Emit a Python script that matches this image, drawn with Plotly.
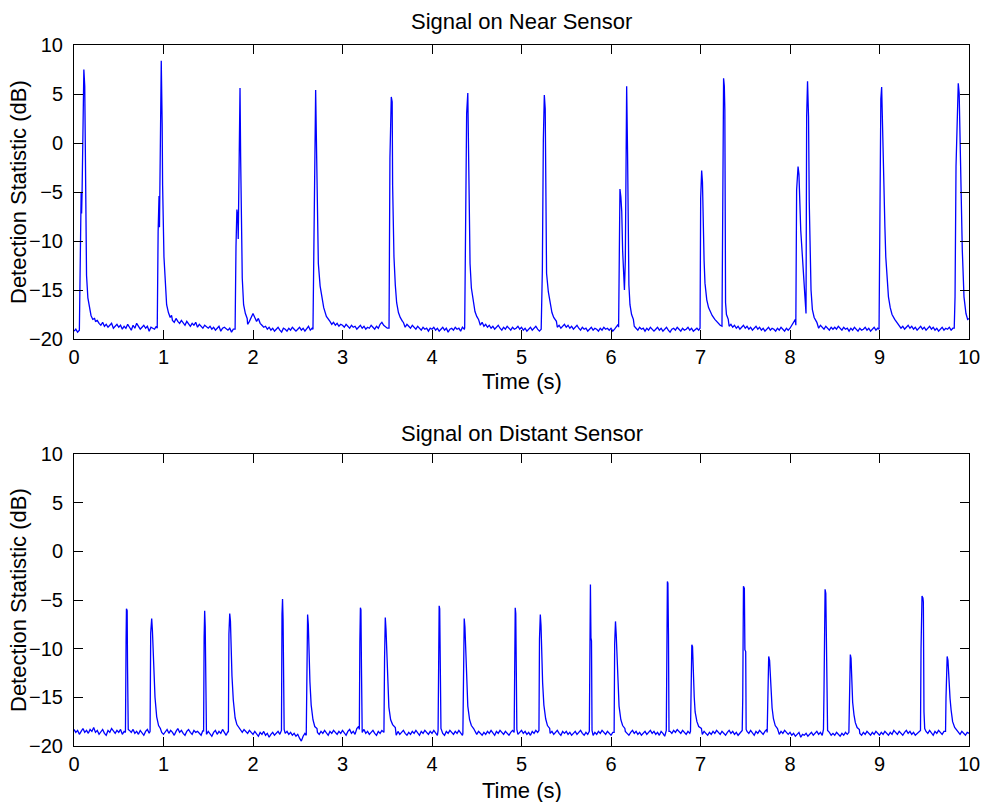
import plotly.graph_objects as go

# ---------------- data ----------------
SAMPLE_STEP = 0.02  # s, spacing of the noise-floor samples

x_ticks = [0, 1, 2, 3, 4, 5, 6, 7, 8, 9, 10]
y_ticks = [10, 5, 0, -5, -10, -15, -20]

titles = ["Signal on Near Sensor", "Signal on Distant Sensor"]
x_title = "Time (s)"
y_title = "Detection Statistic (dB)"

# noise floor, near sensor (one value every 0.02 s, 0 .. 10 s)
near_floor = [
    -19.2, -19.0, -19.3, -19.1, -19.0, -18.9, -19.1, -19.0, -19.2, -19.0, -18.9, -18.7, -18.2, -18.1, -18.4, -18.6, -18.3, -18.7, -18.5, -18.8, -18.6, -18.4, -18.9, -18.7, -18.5,
    -18.8, -18.6, -19.0, -18.7, -18.9, -18.5, -18.8, -19.1, -18.6, -18.9, -18.4, -18.7, -19.0, -18.8, -18.6, -18.9, -18.7, -19.2, -18.8, -18.9, -19.0, -18.7, -19.1, -19.0, -18.8,
    -18.5, -18.2, -17.9, -18.0, -17.8, -18.1, -18.3, -17.9, -18.2, -18.4, -18.1, -18.3, -18.6, -18.2, -18.5, -18.7, -18.4, -18.6, -18.3, -18.8, -18.5, -18.7, -18.9, -18.6, -18.8,
    -18.9, -18.7, -19.0, -18.8, -19.1, -18.9, -18.7, -19.2, -18.9, -18.8, -19.0, -19.1, -18.9, -19.3, -19.0, -18.8, -19.1, -18.9, -18.7, -18.4, -18.6, -18.9, -18.5, -18.2, -17.8,
    -17.4, -17.8, -18.2, -17.9, -18.4, -18.6, -18.8, -18.7, -19.0, -18.8, -19.1, -18.9, -19.2, -19.0, -18.8, -19.1, -19.3, -18.9, -19.0, -19.2, -18.9, -19.1, -18.8, -19.0, -19.2,
    -19.0, -18.8, -19.1, -18.9, -19.2, -19.0, -18.7, -19.1, -18.9, -19.0, -18.8, -19.2, -19.0, -18.9, -19.1, -18.3, -18.1, -18.4, -18.2, -18.5, -18.3, -18.6, -18.4, -18.7, -18.5,
    -18.6, -18.8, -18.5, -18.7, -18.9, -18.6, -18.8, -18.7, -19.0, -18.8, -18.6, -18.9, -18.7, -19.0, -18.8, -18.9, -18.6, -18.8, -19.0, -18.7, -18.9, -18.5, -18.3, -18.6, -18.8,
    -18.9, -19.0, -18.8, -19.1, -18.7, -18.1, -18.5, -18.2, -18.6, -18.3, -18.8, -18.5, -18.7, -18.9, -18.6, -18.8, -19.0, -18.7, -18.9, -19.1, -18.8, -19.0, -18.9, -19.2, -18.9,
    -19.0, -18.8, -19.1, -18.9, -19.2, -19.0, -18.8, -19.1, -18.9, -19.3, -19.0, -18.9, -19.1, -18.8, -19.0, -18.9, -19.2, -18.8, -19.0, -18.7, -18.9, -19.0, -18.3, -18.6, -18.1,
    -18.4, -18.2, -18.6, -18.3, -18.7, -18.5, -18.8, -18.6, -18.9, -18.7, -19.0, -18.8, -18.6, -18.9, -19.1, -18.8, -19.0, -18.7, -18.9, -19.1, -18.8, -19.0, -18.9, -18.7, -19.0,
    -18.8, -19.1, -18.9, -19.2, -19.0, -18.8, -19.1, -18.9, -18.7, -19.0, -19.2, -18.9, -19.1, -18.8, -19.0, -18.9, -18.6, -18.4, -18.7, -18.5, -18.8, -18.6, -18.9, -18.7, -18.5,
    -18.8, -18.6, -18.9, -18.7, -19.0, -18.8, -18.6, -18.9, -19.1, -18.8, -19.0, -18.9, -19.2, -19.0, -18.8, -19.1, -18.9, -19.0, -19.2, -18.9, -19.1, -18.8, -19.0, -18.9, -19.1,
    -18.9, -19.2, -19.0, -18.8, -18.5, -18.7, -18.3, -18.0, -18.4, -18.7, -18.5, -18.8, -19.0, -18.7, -18.9, -19.1, -18.8, -19.0, -18.9, -19.2, -18.9, -19.1, -18.8, -19.0, -19.2,
    -19.0, -18.8, -19.1, -18.9, -19.2, -19.0, -18.8, -19.1, -19.3, -19.0, -18.9, -19.1, -18.8, -19.0, -19.2, -18.9, -19.1, -19.0, -18.8, -19.1, -18.9, -19.2, -19.0, -18.9, -19.1,
    -19.0, -18.8, -18.5, -17.6, -17.9, -18.2, -17.8, -18.3, -18.1, -18.5, -18.3, -18.6, -18.8, -18.2, -18.6, -18.4, -18.7, -18.5, -18.8, -18.6, -18.9, -18.7, -19.0, -18.8, -18.6,
    -18.9, -18.7, -19.0, -18.8, -19.1, -18.9, -18.7, -19.0, -18.8, -19.1, -18.9, -19.2, -19.0, -18.8, -19.1, -18.9, -19.0, -19.2, -18.9, -19.1, -18.8, -19.0, -19.2, -18.9, -19.1,
    -18.9, -18.6, -18.3, -18.0, -18.4, -17.9, -18.3, -18.6, -18.2, -18.5, -18.7, -18.4, -18.6, -18.8, -18.5, -18.7, -18.9, -18.6, -18.8, -19.0, -18.7, -18.9, -19.1, -18.8, -19.0,
    -18.8, -19.0, -18.7, -18.9, -19.1, -18.8, -19.0, -18.9, -19.2, -18.9, -19.1, -18.8, -19.0, -19.2, -18.9, -19.1, -19.0, -18.8, -19.1, -18.9, -19.2, -19.0, -18.8, -19.1, -18.9,
    -19.0, -18.8, -19.1, -18.9, -18.5, -18.2, -18.6, -18.3, -18.7, -18.5, -18.8, -18.6, -18.9, -18.7, -19.0, -18.8, -18.6, -18.9, -18.7, -19.0, -18.8, -19.1, -18.9, -18.7, -19.0,
    -18.8, -19.1, -18.9, -18.7, -19.0, -18.8, -19.1, -18.9, -19.2, -19.0, -18.8, -19.1, -18.9, -19.0, -18.8, -19.1, -18.9, -19.2, -19.0, -18.8, -19.1, -18.9, -19.0, -18.8, -18.6,
    -18.0,
]

# detections on the near sensor: (time s, dB) points
near_events = [
    [(0.06, -19.1), (0.07, -12.0), (0.08, -5.0), (0.085, -7.2), (0.09, -5.2), (0.10, 4.5), (0.11, 7.5), (0.12, 5.8),
     (0.13, -6.0), (0.14, -13.5), (0.155, -15.8), (0.17, -16.8), (0.19, -17.6), (0.21, -18.0), (0.23, -17.9)],
    [(0.93, -18.9), (0.94, -9.0), (0.95, -5.4), (0.955, -8.6), (0.965, -1.0), (0.975, 8.4), (0.985, 2.0), (0.99, -4.3),
     (1.005, -11.6), (1.02, -14.6), (1.035, -16.5), (1.055, -17.3), (1.075, -17.8), (1.09, -17.6)],
    [(1.80, -19.0), (1.81, -10.5), (1.82, -6.8), (1.83, -7.6), (1.835, -9.8), (1.845, -2.0), (1.855, 5.6), (1.862, -1.5),
     (1.87, -10.0), (1.88, -13.8), (1.895, -16.5), (1.915, -17.4), (1.935, -17.9)],
    [(2.67, -19.0), (2.685, -5.0), (2.70, 5.4), (2.708, 0.5), (2.72, -8.0), (2.73, -12.3), (2.75, -14.6), (2.767, -15.6),
     (2.79, -16.8), (2.82, -17.7), (2.85, -18.0)],
    [(3.52, -18.9), (3.53, -1.5), (3.545, 4.7), (3.555, 4.2), (3.56, -4.3), (3.575, -11.6), (3.59, -14.5), (3.605, -16.3),
     (3.625, -17.3), (3.645, -17.8), (3.67, -18.2)],
    [(4.365, -18.9), (4.376, -8.0), (4.387, 3.0), (4.40, 5.1), (4.41, -4.8), (4.425, -12.3), (4.44, -14.8), (4.46, -16.3),
     (4.48, -17.2), (4.50, -17.7), (4.52, -18.0)],
    [(5.22, -19.0), (5.233, -13.0), (5.244, 0.3), (5.255, 4.9), (5.265, 3.5), (5.272, -6.1), (5.28, -13.3), (5.30, -15.2),
     (5.32, -16.4), (5.34, -17.3), (5.36, -17.8), (5.39, -18.2)],
    [(6.085, -18.8), (6.093, -12.3), (6.10, -4.7), (6.11, -5.5), (6.12, -7.0), (6.13, -11.0), (6.14, -13.6), (6.15, -15.0),
     (6.16, -12.0), (6.168, 4.7), (6.175, 5.8), (6.185, -1.0), (6.193, -10.6), (6.20, -14.5), (6.212, -16.5),
     (6.23, -17.5), (6.25, -18.0)],
    [(6.995, -18.9), (7.002, -5.6), (7.013, -2.8), (7.022, -4.0), (7.031, -8.9), (7.04, -12.0), (7.05, -14.3),
     (7.07, -16.0), (7.09, -16.8), (7.11, -17.3), (7.13, -17.6), (7.16, -18.0), (7.19, -18.3), (7.215, -18.6)],
    [(7.24, -18.7), (7.246, -8.0), (7.25, 5.4), (7.258, 6.6), (7.266, 5.8), (7.272, 3.4), (7.28, -16.3), (7.29, -17.5),
     (7.31, -18.0)],
    [(8.065, -18.6), (8.074, -4.8), (8.09, -2.4), (8.10, -3.2), (8.12, -8.9), (8.135, -11.5), (8.15, -13.3), (8.167, -15.7),
     (8.179, -17.4), (8.186, 2.7), (8.196, 6.3), (8.207, 2.7), (8.215, -6.0), (8.224, -12.3), (8.235, -15.0),
     (8.25, -17.0), (8.27, -17.8), (8.30, -18.3)],
    [(8.995, -19.0), (9.006, -4.8), (9.015, 4.5), (9.024, 5.7), (9.035, 0.6), (9.05, -4.5), (9.06, -8.5), (9.07, -11.6),
     (9.085, -14.0), (9.10, -15.7), (9.12, -16.8), (9.14, -17.5), (9.17, -18.0), (9.20, -18.4)],
    [(9.835, -18.9), (9.844, -15.7), (9.855, -2.4), (9.87, 2.7), (9.88, 6.1), (9.89, 5.1), (9.907, -4.8), (9.925, -10.9),
     (9.944, -15.7), (9.966, -17.4), (9.985, -18.0), (10.0, -17.9)],
]

# noise floor, distant sensor (one value every 0.02 s, 0 .. 10 s)
far_floor = [
    -18.3, -18.6, -18.4, -18.8, -18.5, -18.2, -18.6, -18.4, -18.7, -18.3, -18.5, -18.1, -18.6, -18.4, -18.8, -18.5, -18.3, -18.7, -18.9, -18.4, -18.6, -18.2, -18.5, -18.7, -18.4,
    -18.6, -18.3, -18.8, -18.5, -18.2, -18.9, -18.4, -18.6, -18.3, -18.7, -18.5, -18.8, -18.4, -18.6, -18.9, -18.5, -18.3, -18.7, -18.4, -18.6, -18.3, -18.5, -18.7, -18.4, -18.6,
    -18.8, -18.5, -18.3, -18.7, -18.4, -18.6, -18.9, -18.5, -18.2, -18.6, -18.4, -18.7, -18.9, -18.5, -18.3, -18.6, -18.8, -18.4, -18.6, -18.5, -18.7, -18.9, -18.4, -18.6, -18.8,
    -18.5, -18.7, -19.0, -18.6, -18.4, -18.8, -18.5, -18.7, -18.3, -18.6, -18.9, -18.5, -18.7, -18.4, -18.6, -18.8, -18.5, -18.7, -18.4, -18.6, -18.3, -18.5, -18.7, -18.4, -18.6,
    -18.8, -18.5, -18.7, -19.0, -18.6, -18.8, -18.5, -18.9, -18.7, -19.1, -18.8, -18.6, -18.9, -18.7, -18.5, -18.8, -18.6, -18.9, -18.7, -18.5, -18.8, -18.6, -18.9, -18.7, -19.0,
    -18.8, -19.2, -19.5, -19.0, -18.7, -18.9, -18.6, -18.8, -18.5, -18.7, -18.4, -18.6, -18.8, -18.5, -18.7, -18.4, -18.6, -18.9, -18.5, -18.7, -18.4, -18.6, -18.8, -18.5, -18.7,
    -18.4, -18.6, -18.9, -18.5, -18.3, -18.7, -18.5, -18.8, -18.2, -18.0, -18.4, -18.6, -18.3, -18.7, -18.5, -18.8, -18.6, -18.4, -18.7, -18.9, -18.5, -18.7, -18.4, -18.6, -18.8,
    -18.5, -18.3, -18.6, -18.4, -18.7, -18.9, -18.5, -18.8, -18.6, -18.4, -18.7, -18.9, -18.6, -18.8, -18.5, -18.7, -18.4, -18.6, -18.9, -18.5, -18.7, -18.4, -18.6, -18.8, -18.5,
    -18.7, -18.4, -18.6, -18.9, -18.5, -18.2, -18.7, -18.9, -18.5, -18.7, -18.4, -18.6, -18.8, -18.5, -18.7, -18.4, -18.6, -18.9, -18.5, -18.7, -18.8, -18.6, -18.9, -18.7, -18.5,
    -18.8, -18.5, -18.7, -18.9, -18.6, -18.8, -18.5, -18.7, -18.4, -18.6, -18.9, -18.5, -18.7, -18.4, -18.6, -18.8, -18.5, -18.7, -18.9, -18.6, -18.4, -18.7, -18.5, -18.8, -18.6,
    -18.4, -18.7, -18.5, -18.8, -18.6, -18.9, -18.5, -18.7, -18.4, -18.6, -18.8, -18.5, -18.7, -18.9, -18.6, -18.4, -18.7, -18.5, -18.8, -18.6, -18.4, -18.7, -18.9, -18.5, -18.7,
    -18.5, -18.8, -18.6, -18.9, -18.7, -18.5, -18.8, -18.6, -18.4, -18.7, -18.9, -18.6, -18.8, -18.5, -18.7, -18.9, -18.6, -18.8, -18.5, -18.7, -18.4, -18.6, -18.8, -18.5, -18.7,
    -18.9, -18.6, -18.8, -18.5, -18.7, -18.4, -18.6, -18.8, -18.5, -18.7, -18.9, -18.6, -18.4, -18.7, -18.5, -18.8, -18.6, -18.9, -18.7, -18.5, -18.8, -18.6, -18.4, -18.7, -18.5,
    -18.8, -18.6, -18.9, -18.5, -18.7, -19.0, -18.6, -18.8, -18.5, -18.7, -18.4, -18.6, -18.3, -18.5, -18.7, -18.4, -18.6, -18.8, -18.5, -18.7, -18.9, -18.6, -18.8, -18.5, -18.7,
    -18.6, -18.8, -18.5, -18.7, -18.9, -18.6, -18.8, -18.5, -18.7, -18.4, -18.6, -18.8, -18.5, -18.7, -18.9, -18.6, -18.4, -18.7, -18.5, -18.8, -18.6, -18.9, -18.7, -18.5, -18.6,
    -18.8, -18.5, -18.7, -18.4, -18.6, -18.9, -18.5, -18.7, -18.4, -18.6, -18.8, -18.5, -18.3, -18.6, -18.8, -18.5, -18.7, -18.9, -18.6, -18.8, -18.5, -18.7, -18.4, -18.6, -18.8,
    -18.6, -18.9, -18.7, -19.0, -18.8, -18.6, -19.1, -18.8, -18.9, -18.7, -19.0, -18.8, -18.6, -18.9, -18.7, -18.5, -18.8, -18.6, -18.9, -18.7, -18.5, -18.8, -18.6, -18.9, -18.7,
    -18.9, -18.6, -18.8, -19.0, -18.7, -18.9, -18.6, -18.8, -18.5, -18.7, -18.9, -18.6, -18.8, -18.5, -18.7, -18.9, -18.6, -18.8, -18.5, -18.7, -18.9, -18.6, -18.8, -18.5, -18.7,
    -18.9, -18.6, -18.8, -18.5, -18.7, -18.9, -18.6, -18.8, -18.4, -18.6, -18.8, -18.5, -18.7, -18.9, -18.6, -18.4, -18.7, -18.5, -18.8, -18.6, -18.9, -18.7, -18.5, -18.8, -18.6,
    -18.8, -18.5, -18.7, -18.4, -18.6, -18.9, -18.5, -18.7, -18.4, -18.6, -18.8, -18.5, -18.7, -18.9, -18.6, -18.8, -18.5, -18.7, -18.4, -18.6, -18.8, -18.5, -18.7, -18.9, -18.6,
    -18.7,
]

# detections on the distant sensor: (time s, dB) points
far_events = [
    [(0.575, -18.6), (0.582, -9.0), (0.586, -5.9), (0.594, -6.1), (0.598, -11.7), (0.606, -18.3)],
    [(0.85, -18.5), (0.857, -8.4), (0.868, -6.9), (0.876, -8.1), (0.885, -10.5), (0.894, -12.2), (0.905, -15.0),
     (0.924, -17.0), (0.945, -17.9), (0.965, -18.2)],
    [(1.448, -18.5), (1.454, -8.8), (1.46, -6.1), (1.466, -7.7), (1.472, -12.5), (1.478, -18.4)],
    [(1.725, -18.6), (1.731, -8.5), (1.74, -6.4), (1.748, -7.2), (1.755, -9.9), (1.765, -12.8), (1.78, -15.3),
     (1.80, -17.1), (1.82, -17.8), (1.845, -18.1)],
    [(2.318, -18.4), (2.324, -6.5), (2.33, -4.9), (2.336, -7.0), (2.342, -12.8), (2.348, -18.3)],
    [(2.595, -18.9), (2.601, -9.5), (2.61, -6.5), (2.618, -7.5), (2.626, -10.8), (2.636, -13.4), (2.65, -15.8),
     (2.67, -17.3), (2.69, -18.0), (2.715, -18.2)],
    [(3.188, -18.3), (3.194, -9.3), (3.20, -5.8), (3.206, -6.0), (3.212, -12.0), (3.218, -18.4)],
    [(3.463, -18.6), (3.47, -11.0), (3.478, -6.8), (3.486, -8.0), (3.494, -10.5), (3.504, -13.6), (3.518, -16.0),
     (3.538, -17.3), (3.56, -17.8), (3.59, -18.1)],
    [(4.068, -18.4), (4.074, -8.0), (4.08, -5.6), (4.086, -5.9), (4.092, -12.5), (4.098, -18.2)],
    [(4.345, -18.7), (4.351, -9.6), (4.36, -6.9), (4.368, -7.8), (4.376, -10.5), (4.386, -13.5), (4.40, -15.9),
     (4.42, -17.3), (4.44, -17.9), (4.465, -18.2)],
    [(4.918, -18.6), (4.924, -7.8), (4.93, -5.8), (4.936, -6.4), (4.942, -12.0), (4.948, -18.3)],
    [(5.195, -18.4), (5.201, -9.0), (5.21, -6.5), (5.218, -7.6), (5.226, -10.8), (5.236, -13.5), (5.25, -15.8),
     (5.27, -17.2), (5.29, -17.9), (5.315, -18.2)],
    [(5.758, -18.5), (5.764, -3.6), (5.77, -3.4), (5.776, -8.9), (5.782, -9.2), (5.788, -18.4)],
    [(6.035, -18.6), (6.041, -9.5), (6.05, -7.2), (6.058, -8.5), (6.066, -11.0), (6.076, -13.6), (6.09, -15.9),
     (6.11, -17.3), (6.13, -17.9), (6.155, -18.2)],
    [(6.618, -18.4), (6.624, -9.3), (6.63, -3.1), (6.636, -3.3), (6.642, -8.5), (6.648, -18.5)],
    [(6.888, -18.5), (6.894, -14.4), (6.903, -9.6), (6.911, -9.8), (6.92, -13.0), (6.93, -15.0), (6.94, -16.5),
     (6.96, -17.5), (6.98, -18.0), (7.01, -18.2)],
    [(7.466, -18.4), (7.472, -15.1), (7.48, -3.6), (7.49, -3.8), (7.496, -10.1), (7.505, -10.3), (7.51, -18.3)],
    [(7.745, -18.6), (7.752, -16.0), (7.762, -10.8), (7.772, -11.2), (7.78, -12.7), (7.79, -14.6), (7.80, -16.1),
     (7.815, -17.2), (7.835, -17.9), (7.86, -18.2)],
    [(8.374, -18.3), (8.38, -14.3), (8.392, -3.9), (8.40, -4.3), (8.407, -9.6), (8.414, -10.0), (8.42, -18.4)],
    [(8.658, -18.6), (8.663, -14.1), (8.674, -10.6), (8.682, -11.0), (8.693, -14.4), (8.70, -15.5), (8.715, -16.8),
     (8.73, -17.6), (8.75, -18.1), (8.775, -18.3)],
    [(9.458, -18.4), (9.464, -10.0), (9.475, -4.6), (9.485, -4.8), (9.49, -5.2), (9.497, -16.5), (9.505, -18.2)],
    [(9.738, -18.5), (9.743, -15.1), (9.756, -10.8), (9.765, -11.2), (9.772, -12.7), (9.788, -15.1), (9.80, -16.3),
     (9.817, -17.5), (9.84, -18.1), (9.865, -18.4)],
]


def assemble(floor, events):
    """Merge the floor samples with the detection points (floor samples that
    fall inside a detection window are replaced by the detection points)."""
    windows = [(ev[0][0], ev[-1][0]) for ev in events]
    pts = []
    for i, v in enumerate(floor):
        t = round(i * SAMPLE_STEP, 4)
        if any(a - 1e-9 <= t <= b + 1e-9 for a, b in windows):
            continue
        pts.append((t, v))
    for ev in events:
        pts.extend(ev)
    pts.sort()
    return [p[0] for p in pts], [p[1] for p in pts]


near_t, near_v = assemble(near_floor, near_events)
far_t, far_v = assemble(far_floor, far_events)

# ---------------- figure ----------------
FONT = "Liberation Sans, Arial, Helvetica, sans-serif"
FS_TICK = 20
FS_TEXT = 22
W, H = 982, 802
ML, MR, MT, MB = 74, 13, 45, 56
PH = H - MT - MB
PW = W - ML - MR


def py(px):  # pixel row -> paper y
    return (H - MB - px) / PH


def px_(x):  # pixel column -> paper x
    return (x - ML) / PW


fig = go.Figure()
fig.add_trace(go.Scatter(x=near_t, y=near_v, mode="lines", line=dict(color="#0000ff", width=1.3),
                         xaxis="x", yaxis="y", showlegend=False, hoverinfo="skip"))
fig.add_trace(go.Scatter(x=far_t, y=far_v, mode="lines", line=dict(color="#0000ff", width=1.3),
                         xaxis="x2", yaxis="y2", showlegend=False, hoverinfo="skip"))

axis_common = dict(showgrid=False, zeroline=False, showline=True, linecolor="black", linewidth=1,
                   mirror="ticks", ticks="inside", ticklen=9, tickwidth=1, tickcolor="black",
                   automargin=False,
                   tickfont=dict(family=FONT, size=FS_TICK, color="black"))

fig.update_layout(
    width=W, height=H,
    margin=dict(l=ML, r=MR, t=MT, b=MB, autoexpand=False),
    paper_bgcolor="white", plot_bgcolor="white",
    font=dict(family=FONT, size=FS_TEXT, color="black"),
    xaxis=dict(domain=[0, 1], range=[0, 10], tickvals=x_ticks, anchor="y", **axis_common),
    yaxis=dict(domain=[py(339), 1], range=[-20, 10], tickvals=y_ticks, anchor="x",
               ticklabelstandoff=6, **axis_common),
    xaxis2=dict(domain=[0, 1], range=[0, 10], tickvals=x_ticks, anchor="y2", **axis_common),
    yaxis2=dict(domain=[0, py(454)], range=[-20, 10], tickvals=y_ticks, anchor="x2",
                ticklabelstandoff=6, **axis_common),
)

ann = []
ann.append(dict(text=titles[0], x=0.5, y=py(22), xref="paper", yref="paper", showarrow=False,
                xanchor="center", yanchor="middle", font=dict(family=FONT, size=FS_TEXT)))
ann.append(dict(text=titles[1], x=0.5, y=py(433), xref="paper", yref="paper", showarrow=False,
                xanchor="center", yanchor="middle", font=dict(family=FONT, size=FS_TEXT)))
ann.append(dict(text=x_title, x=0.5, y=py(381), xref="paper", yref="paper", showarrow=False,
                xanchor="center", yanchor="middle", font=dict(family=FONT, size=FS_TEXT)))
ann.append(dict(text=x_title, x=0.5, y=py(790), xref="paper", yref="paper", showarrow=False,
                xanchor="center", yanchor="middle", font=dict(family=FONT, size=FS_TEXT)))
ann.append(dict(text=y_title, x=px_(18), y=py(192), xref="paper", yref="paper", showarrow=False,
                textangle=-90, xanchor="center", yanchor="middle", font=dict(family=FONT, size=FS_TEXT)))
ann.append(dict(text=y_title, x=px_(18), y=py(600), xref="paper", yref="paper", showarrow=False,
                textangle=-90, xanchor="center", yanchor="middle", font=dict(family=FONT, size=FS_TEXT)))
fig.update_layout(annotations=ann)

fig.write_html("out.html")
